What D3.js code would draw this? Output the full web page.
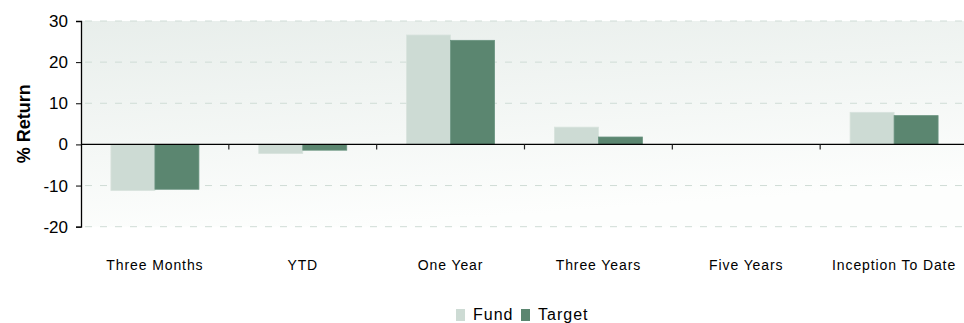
<!DOCTYPE html>
<html>
<head>
<meta charset="utf-8">
<script src="https://cdn.jsdelivr.net/npm/d3@7"></script>
<style>
  body { margin: 0; background: #fff; }
  svg { display: block; font-family: "Liberation Sans", Arial, sans-serif; }
</style>
</head>
<body>
<div class="chart"></div>
<script>
// data
const categories = ["Three Months", "YTD", "One Year", "Three Years", "Five Years", "Inception To Date"];
const series = ["Fund", "Target"];
const fund = [-11.2, -2.2, 26.6, 4.2, 0, 7.8];
const target = [-10.9, -1.4, 25.3, 1.8, 0, 7.0];
const yTicks = [-20, -10, 0, 10, 20, 30];
const colors = { Fund: "#cddbd4", Target: "#5b8670" };

const W = 964, H = 323;
const margin = { top: 21, right: -4, bottom: 95, left: 81 };

const svg = d3.select(".chart").append("svg").attr("width", W).attr("height", H);

// background gradient of the plot area
const defs = svg.append("defs");
const grad = defs.append("linearGradient").attr("id", "bg")
    .attr("x1", "0%").attr("y1", "0%").attr("x2", "30%").attr("y2", "100%");
grad.append("stop").attr("offset", "0%").attr("stop-color", "#e8eeeb");
grad.append("stop").attr("offset", "100%").attr("stop-color", "#fdfefd");

const x = d3.scaleBand().domain(categories).range([margin.left, W - margin.right]);
const x1 = d3.scaleBand().domain(series).range([0, x.bandwidth()]).paddingOuter(0.68).paddingInner(0);
const y = d3.scaleLinear().domain([-20, 30]).range([H - margin.bottom - 1.3, margin.top]);

svg.append("rect")
    .attr("x", margin.left).attr("y", y(30))
    .attr("width", W - margin.right - margin.left)
    .attr("height", y(-20) - y(30))
    .attr("fill", "url(#bg)");

// gridlines
svg.append("g").selectAll("line").data(yTicks.filter(d => d !== 0)).join("line")
    .attr("x1", margin.left + 4).attr("x2", W)
    .attr("y1", d => y(d)).attr("y2", d => y(d))
    .attr("stroke", "#cfdcd6").attr("stroke-width", 1)
    .attr("stroke-dasharray", "7,8");

// bars
const rows = categories.map((c, i) => ({ cat: c, Fund: fund[i], Target: target[i] }));
const groups = svg.append("g").selectAll("g").data(rows).join("g")
    .attr("transform", d => `translate(${x(d.cat)},0)`);
groups.selectAll("rect").data(d => series.map(s => ({ s, v: d[s] }))).join("rect")
    .attr("x", d => x1(d.s))
    .attr("width", x1.bandwidth())
    .attr("y", d => y(Math.max(0, d.v)))
    .attr("height", d => Math.abs(y(d.v) - y(0)))
    .attr("fill", d => colors[d.s])
    .attr("stroke", d => d.s === "Fund" ? "#d8e3dd" : "#6a9480")
    .attr("stroke-width", 0.8);

// y axis
const yAxis = d3.axisLeft(y).tickValues(yTicks).tickSize(5).tickPadding(8).tickFormat(d => String(d));
const gy = svg.append("g").attr("transform", `translate(${margin.left},0)`).call(yAxis);
gy.select(".domain").attr("stroke", "#000").attr("stroke-width", 1.3);
gy.selectAll(".tick line").attr("stroke", "#000");
gy.selectAll("text").attr("font-size", 17).attr("fill", "#000")
    .attr("font-family", "Liberation Sans, Arial, sans-serif");

// zero line with category boundary ticks
svg.append("line")
    .attr("x1", margin.left).attr("x2", W)
    .attr("y1", y(0)).attr("y2", y(0))
    .attr("stroke", "#000").attr("stroke-width", 1.3);
svg.append("g").selectAll("line").data(categories.slice(1)).join("line")
    .attr("x1", d => x(d)).attr("x2", d => x(d))
    .attr("y1", y(0)).attr("y2", y(0) + 5)
    .attr("stroke", "#222").attr("stroke-width", 1.2);

// category labels
svg.append("g").selectAll("text").data(categories).join("text")
    .attr("x", d => x(d) + x.bandwidth() / 2)
    .attr("y", 270)
    .attr("text-anchor", "middle")
    .attr("font-size", 14)
    .attr("letter-spacing", 0.9)
    .attr("fill", "#000")
    .text(d => d);

// axis title
svg.append("text")
    .attr("transform", `translate(30,${(y(30) + y(-20)) / 2}) rotate(-90)`)
    .attr("text-anchor", "middle")
    .attr("font-size", 18)
    .attr("font-weight", "bold")
    .text("% Return");

// legend
const legend = svg.append("g");
const legendX = [456, 521];
series.forEach((s, i) => {
    legend.append("rect")
        .attr("x", legendX[i]).attr("y", 309)
        .attr("width", 9).attr("height", 12)
        .attr("fill", colors[s]);
    legend.append("text")
        .attr("x", legendX[i] + 17).attr("y", 320)
        .attr("font-size", 16)
        .attr("letter-spacing", 1)
        .text(s);
});
</script>
</body>
</html>
